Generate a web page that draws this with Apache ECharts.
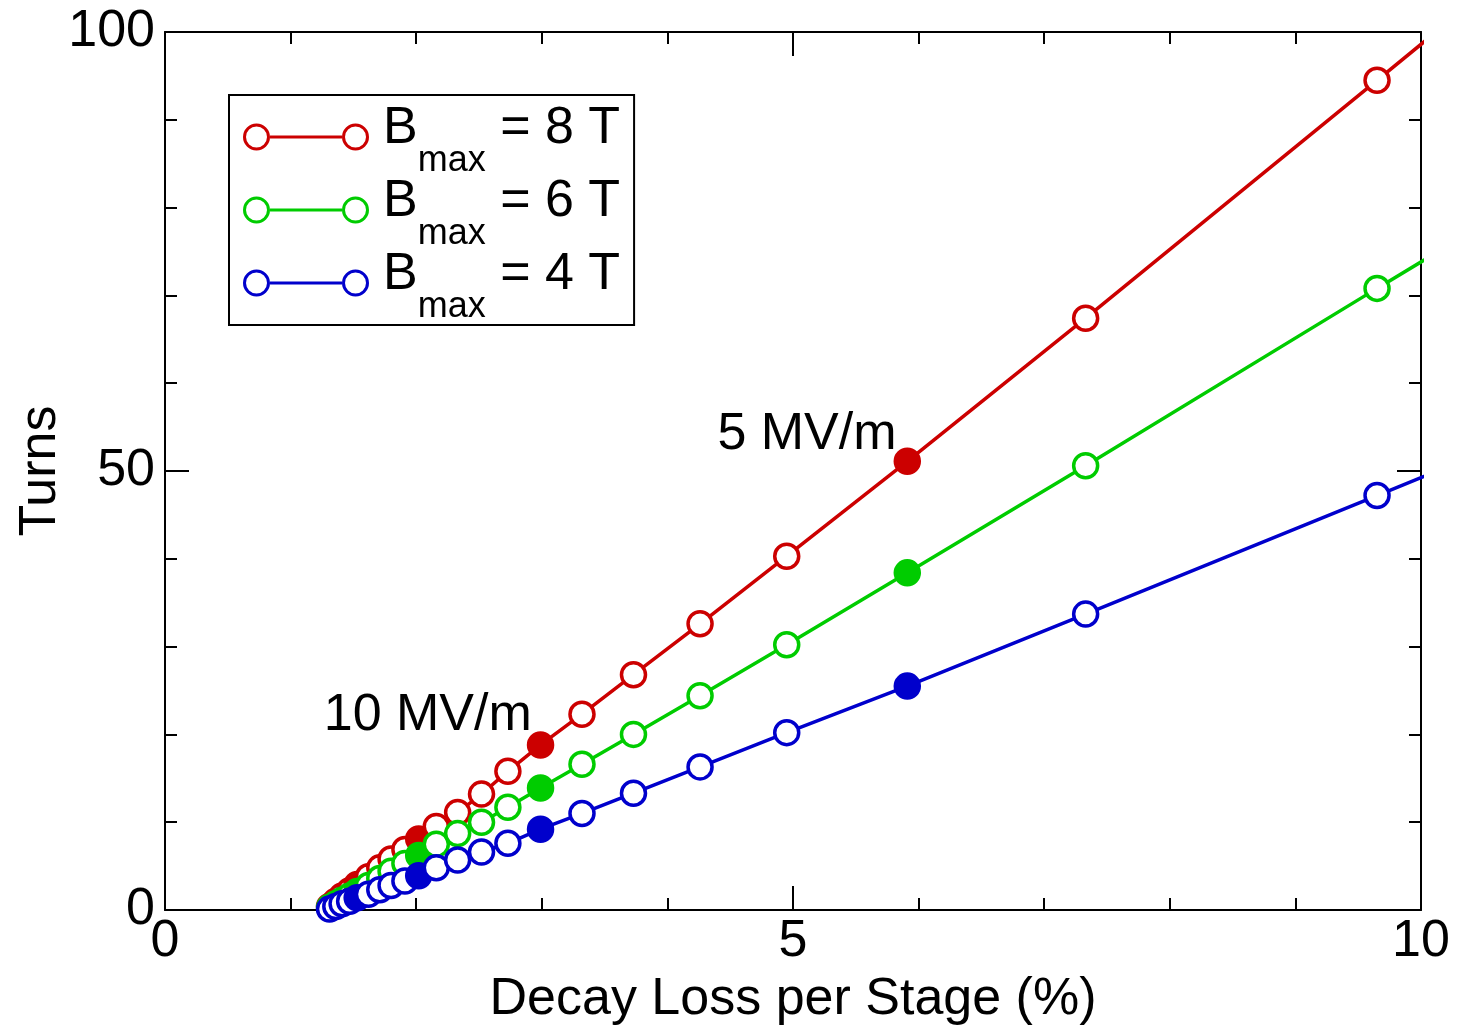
<!DOCTYPE html>
<html>
<head>
<meta charset="utf-8">
<script src="https://cdn.jsdelivr.net/npm/echarts@6/dist/echarts.min.js"></script>
<style>
  html, body { margin: 0; padding: 0; background: #fff; }
  #chart { width: 1457px; height: 1026px; }
</style>
</head>
<body>
<div id="chart"></div>
<script>
// decay loss per stage (%), same for every field strength
const decayLoss = [1.31, 1.36, 1.41, 1.47, 1.53, 1.62, 1.71, 1.80, 1.91, 2.02, 2.16, 2.33, 2.52, 2.73, 2.99, 3.32, 3.73, 4.26, 4.95, 5.91, 7.33, 9.65, 12.0];
const turns8T = [0.4, 1.0, 1.6, 2.2, 2.9, 3.8, 4.8, 5.8, 6.9, 8.1, 9.5, 11.1, 13.2, 15.8, 18.8, 22.3, 26.8, 32.6, 40.3, 51.1, 67.4, 94.5, 122];
const turns6T = [0.3, 0.7, 1.1, 1.6, 2.1, 2.8, 3.6, 4.4, 5.3, 6.2, 7.5, 8.7, 10.0, 11.7, 13.9, 16.6, 20.0, 24.4, 30.2, 38.4, 50.6, 70.8, 91];
const turns4T = [0.1, 0.4, 0.7, 1.0, 1.4, 1.8, 2.3, 2.8, 3.3, 3.9, 4.8, 5.7, 6.6, 7.6, 9.2, 11.0, 13.3, 16.3, 20.2, 25.5, 33.7, 47.2, 61];
// points drawn filled (20, 15, 10, 5 MV/m)
const filledIdx = [4, 9, 14, 19];
const gradientLabels = { 19: '5 MV/m', 14: '10 MV/m' };
const seriesNames = ['Bmax = 8 T', 'Bmax = 6 T', 'Bmax = 4 T'];
const seriesColors = ['#cc0000', '#00cc00', '#0000cc'];
const xTicks = [0, 5, 10];
const yTicks = [0, 50, 100];

const FONT = '"Liberation Sans", Arial, sans-serif';
const ringIcon = 'path://M0,13.5 A13.5,13.5 0 1,0 27,13.5 A13.5,13.5 0 1,0 0,13.5 Z M3,13.5 A10.5,10.5 0 1,1 24,13.5 A10.5,10.5 0 1,1 3,13.5 Z ' +
  'M27,12 L99,12 L99,15 L27,15 Z ' +
  'M99,13.5 A13.5,13.5 0 1,0 126,13.5 A13.5,13.5 0 1,0 99,13.5 Z M102,13.5 A10.5,10.5 0 1,1 123,13.5 A10.5,10.5 0 1,1 102,13.5 Z';

const makeData = (ys, color, withLabels) => decayLoss.map((x, i) => {
  const item = { value: [x, ys[i]] };
  if (filledIdx.indexOf(i) >= 0) {
    item.itemStyle = { color: color };
  }
  if (withLabels && gradientLabels[i]) {
    item.label = {
      show: true,
      formatter: gradientLabels[i],
      position: 'left',
      distance: 0,
      offset: i === 19 ? [3, -27] : [5, -29],
      fontSize: 52,
      fontFamily: FONT,
      color: '#000'
    };
  }
  return item;
});

const allTurns = [turns8T, turns6T, turns4T];

const axisCommon = {
  type: 'value',
  axisLine: { show: true, onZero: false, lineStyle: { color: '#000', width: 2 } },
  axisTick: { show: true, inside: true, length: 24, lineStyle: { color: '#000', width: 2 } },
  minorTick: { show: true, splitNumber: 5, length: 12, lineStyle: { color: '#000', width: 2 } },
  splitLine: { show: false }
};

const chart = echarts.init(document.getElementById('chart'));
chart.setOption({
  animation: false,
  backgroundColor: '#fff',
  grid: { left: 165, right: 36, top: 32, bottom: 116, containLabel: false, outerBoundsMode: 'none' },
  xAxis: [
    Object.assign({}, axisCommon, {
      position: 'bottom', min: xTicks[0], max: xTicks[2], interval: xTicks[1] - xTicks[0],
      axisLabel: { fontSize: 52, fontFamily: FONT, color: '#000', margin: 6 },
      name: 'Decay Loss per Stage (%)', nameLocation: 'middle', nameGap: 64, nameMoveOverlap: false,
      nameTextStyle: { fontSize: 52, fontFamily: FONT, color: '#000' }
    }),
    Object.assign({}, axisCommon, {
      position: 'top', min: xTicks[0], max: xTicks[2], interval: xTicks[1] - xTicks[0],
      axisLabel: { show: false }
    })
  ],
  yAxis: [
    Object.assign({}, axisCommon, {
      position: 'left', min: yTicks[0], max: yTicks[2], interval: yTicks[1] - yTicks[0],
      axisLabel: { fontSize: 52, fontFamily: FONT, color: '#000', margin: 10 },
      name: 'Turns', nameLocation: 'middle', nameGap: 98, nameRotate: 90, nameMoveOverlap: false,
      nameTextStyle: { fontSize: 52, fontFamily: FONT, color: '#000' }
    }),
    Object.assign({}, axisCommon, {
      position: 'right', min: yTicks[0], max: yTicks[2], interval: yTicks[1] - yTicks[0],
      axisLabel: { show: false }
    })
  ],
  legend: {
    orient: 'vertical',
    left: 229,
    top: 95,
    padding: [8, 14, 0, 14],
    itemGap: -3,
    itemWidth: 126,
    itemHeight: 27,
    backgroundColor: '#fff',
    borderColor: '#000',
    borderWidth: 2,
    borderRadius: 0,
    selectedMode: false,
    data: seriesNames.map((n, i) => ({
      name: n,
      icon: ringIcon,
      itemStyle: { color: seriesColors[i], borderWidth: 0 }
    })),
    formatter: name => '{b|B}{s|max}{b| = ' + name.split('= ')[1] + '}',
    textStyle: {
      padding: [0, 0, 0, 9],
      rich: {
        b: { fontSize: 52, fontFamily: FONT, color: '#000', lineHeight: 68, verticalAlign: 'top' },
        s: { fontSize: 36, fontFamily: FONT, color: '#000', lineHeight: 20, padding: [40, 0, 0, 0], verticalAlign: 'top' }
      }
    }
  },
  series: seriesNames.map((name, i) => ({
    name: name,
    type: 'line',
    xAxisIndex: 0,
    yAxisIndex: 0,
    clip: true,
    symbol: 'circle',
    symbolSize: 24,
    lineStyle: { color: seriesColors[i], width: 3.5 },
    itemStyle: { color: '#fff', borderColor: seriesColors[i], borderWidth: 3.5 },
    emphasis: { disabled: true },
    data: makeData(allTurns[i], seriesColors[i], i === 0)
  }))
});
</script>
</body>
</html>
